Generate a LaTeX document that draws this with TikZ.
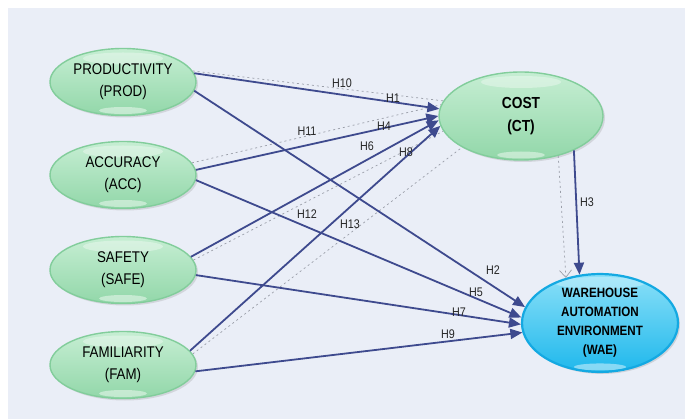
\documentclass[tikz,border=0pt]{standalone}
\usepackage{fontspec}
\setmainfont[FakeStretch=0.86]{Liberation Sans}
\usetikzlibrary{shapes.geometric,arrows.meta,shadows}
\definecolor{bg}{HTML}{EAEEF7}
\definecolor{edgeblue}{HTML}{3E4A8E}
\definecolor{gtop}{HTML}{C6EED3}
\definecolor{gbot}{HTML}{92D7A9}
\definecolor{gborder}{HTML}{82CD9B}
\definecolor{btop}{HTML}{8BE0F8}
\definecolor{bbot}{HTML}{1FB8EC}
\definecolor{bborder}{HTML}{14A9E2}
\definecolor{dotgray}{HTML}{9A9EA8}
\begin{document}
\begin{tikzpicture}[x=1pt,y=-1pt,
  construct/.style={ellipse, inner sep=0pt, minimum width=146pt, minimum height=67pt,
    draw=gborder, line width=1.4pt, top color=gtop, bottom color=gbot,
    drop shadow={opacity=0.22, shadow xshift=2pt, shadow yshift=-2pt},
    align=center, font=\fontsize{15.5}{22}\selectfont,
    path picture={
      \fill[white,opacity=0.35] ([yshift=-10pt]path picture bounding box.north) ellipse [x radius=40pt, y radius=6pt];
      \fill[white,opacity=0.45] ([yshift=5pt]path picture bounding box.south) ellipse [x radius=24pt, y radius=3.5pt];
    }},
  coststyle/.style={construct, minimum width=164pt, minimum height=88pt,
    font=\bfseries\fontsize{16}{23}\selectfont},
  waestyle/.style={ellipse, inner sep=0pt, minimum width=156pt, minimum height=80pt,
    draw=bborder, line width=2.2pt, top color=btop, bottom color=bbot,
    drop shadow={opacity=0.25, shadow xshift=2pt, shadow yshift=-2pt},
    align=center, font=\bfseries\fontsize{13.5}{19}\selectfont,
    path picture={
      \fill[white,opacity=0.3] ([yshift=-9pt]path picture bounding box.north) ellipse [x radius=45pt, y radius=6pt];
      \fill[white,opacity=0.45] ([yshift=5pt]path picture bounding box.south) ellipse [x radius=26pt, y radius=3.5pt];
    }},
  direct/.style={draw=edgeblue, line width=1.8pt, -{Triangle[length=12pt,width=10pt]}},
  indirect/.style={draw=dotgray, line width=0.7pt, dash pattern=on 2pt off 3pt},
  indirectarrow/.style={indirect, -{Straight Barb[length=7pt,width=12pt]}},
  hlabel/.style={inner sep=0pt, font=\fontsize{12.5}{13}\selectfont, text=black!85}
]
\useasboundingbox (0,0) rectangle (685,419);
\fill[bg] (8,8) rectangle (685,419);

\node[construct] (PROD) at (123,82) {PRODUCTIVITY\\(PROD)};
\node[construct] (ACC) at (123,175) {ACCURACY\\(ACC)};
\node[construct] (SAFE) at (123,270) {SAFETY\\(SAFE)};
\node[construct] (FAM) at (123,365) {FAMILIARITY\\(FAM)};
\node[coststyle] (COST) at (521,116) {COST\\(CT)};
\node[waestyle] (WAE) at (600,323) {WAREHOUSE\\AUTOMATION\\ENVIRONMENT\\(WAE)};

\draw[indirect] (PROD.9) -- (COST.169);
\draw[indirect] (ACC.10) -- (COST.172);
\draw[indirect] (SAFE.8) -- (COST.191);
\draw[indirect] (FAM.9) -- (COST.208);
\draw[indirectarrow] (COST.-47) -- (WAE.127);

\draw[direct] (PROD.7) -- (COST.175);
\draw[direct] (PROD.-7) -- (WAE.168);
\draw[direct] (COST.-33) -- (WAE.113);
\draw[direct] (ACC.4) -- (COST.180);
\draw[direct] (ACC.-4) -- (WAE.176);
\draw[direct] (SAFE.11) -- (COST.183);
\draw[direct] (SAFE.-4) -- (WAE.181);
\draw[direct] (FAM.12) -- (COST.187);
\draw[direct] (FAM.-5) -- (WAE.187);

\node[hlabel] (lH10) at (342,83) {H10};
\node[hlabel] (lH1) at (393,98) {H1};
\node[hlabel] (lH11) at (307,131) {H11};
\node[hlabel] (lH4) at (384,126) {H4};
\node[hlabel] (lH6) at (367,146) {H6};
\node[hlabel] (lH8) at (406,152) {H8};
\node[hlabel] (lH12) at (307,214) {H12};
\node[hlabel] (lH13) at (350,224) {H13};
\node[hlabel] (lH2) at (493,270) {H2};
\node[hlabel] (lH5) at (476,292) {H5};
\node[hlabel] (lH7) at (459,312) {H7};
\node[hlabel] (lH9) at (448,334) {H9};
\node[hlabel] (lH3) at (587,202) {H3};
\end{tikzpicture}
\end{document}
